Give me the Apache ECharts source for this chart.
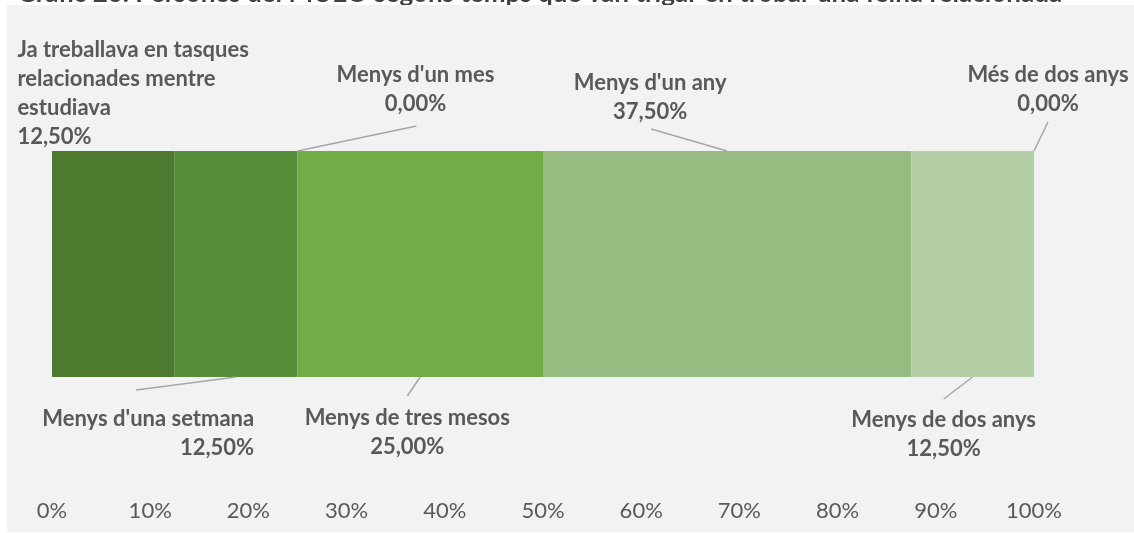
<!DOCTYPE html>
<html>
<head>
<meta charset="utf-8">
<script src="https://cdn.jsdelivr.net/npm/echarts@6/dist/echarts.min.js"></script>
<style>
html,body{margin:0;padding:0;background:#ffffff;}
#chart{width:1134px;height:533px;}
</style>
</head>
<body>
<div id="chart"></div>
<script>
// ---- data ----
const titleText = "Gràfic 26. Persones del MUEO segons temps que van trigar en trobar una feina relacionada";
const categories = [
  "Ja treballava en tasques relacionades mentre estudiava",
  "Menys d'una setmana",
  "Menys d'un mes",
  "Menys de tres mesos",
  "Menys d'un any",
  "Menys de dos anys",
  "Més de dos anys"
];
const labelNames = [
  "Ja treballava en tasques\nrelacionades mentre\nestudiava",
  "Menys d'una setmana",
  "Menys d'un mes",
  "Menys de tres mesos",
  "Menys d'un any",
  "Menys de dos anys",
  "Més de dos anys"
];
const values = [12.5, 12.5, 0, 25, 37.5, 12.5, 0];
const axisMin = 0, axisMax = 100, axisStep = 10;

// ---- styles ----
const segColors = ['#4e7a2f', '#568d38', '#62a03f', '#70ad47', '#96bc81', '#b4cea6', '#c8dbbd'];
// label placement relative to segment anchor (segment middle on bar top/bottom edge)
const labelStyle = [
  {side:'top',    line:null,       tx:-96,  ty:0,    align:'left',   va:'bottom'},
  {side:'bottom', line:[-100, 13], tx:18,   ty:27,   align:'right',  va:'top'},
  {side:'top',    line:[119, -25], tx:118,  ty:-33,  align:'center', va:'bottom'},
  {side:'bottom', line:[-13, 19],  tx:-13,  ty:26.5, align:'center', va:'top'},
  {side:'top',    line:[-76, -22], tx:-77,  ty:-25,  align:'center', va:'bottom'},
  {side:'bottom', line:[-29, 22],  tx:-29,  ty:28.5, align:'center', va:'top'},
  {side:'top',    line:[14, -29],  tx:14,   ty:-33,  align:'center', va:'bottom'}
];
const LABEL_FONT = 'Lato';
const textColor = '#595959';

function fmtPct(v){ return v.toFixed(2).replace('.', ',') + '%'; }

// cumulative mid-points for annotations
const annData = [];
let cum = 0;
for (let i = 0; i < values.length; i++) {
  annData.push([cum + values[i] / 2, 0, i]);
  cum += values[i];
}

const chart = echarts.init(document.getElementById('chart'), null, {renderer:'canvas'});

const barSeries = categories.map((c, i) => ({
  name: c,
  type: 'bar',
  stack: 'total',
  barWidth: '100%',
  data: [values[i]],
  itemStyle: {color: segColors[i]},
  z: 2
}));

const option = {
  animation: false,
  backgroundColor: '#ffffff',
  graphic: [
    {type:'text', left: 17, top: -19, z: -10, silent:true,
     style:{text: titleText, font: 'bold 26px Lato', fill:'#404040'}},
    {type:'rect', shape:{x:7, y:5, width:1127, height:527}, z:-5, silent:true,
     style:{fill:'#f2f2f2'}}
  ],
  grid: {left: 52, right: 100, top: 151, bottom: 156, containLabel: false},
  xAxis: {
    type: 'value', min: axisMin, max: axisMax, interval: axisStep,
    axisLine: {show:false}, axisTick: {show:false}, splitLine: {show:false},
    axisLabel: {formatter: '{value}%', color: textColor, fontFamily: LABEL_FONT,
                fontSize: 22, margin: 123},
    z: 3
  },
  yAxis: {type:'category', data:[''], show:false},
  series: barSeries.concat([{
    type: 'custom',
    coordinateSystem: 'cartesian2d',
    clip: false,
    z: 5,
    silent: true,
    encode: {x: 0, y: 1},
    data: annData,
    renderItem: function(params, api){
      const i = api.value(2);
      const p = api.coord([api.value(0), 0]);
      const h = api.size([0, 1])[1];
      const L = labelStyle[i];
      const ax = p[0];
      const ay = L.side === 'top' ? p[1] - h / 2 : p[1] + h / 2;
      const children = [];
      if (L.line) {
        children.push({type:'line', shape:{x1:ax, y1:ay, x2:ax + L.line[0], y2:ay + L.line[1]},
          style:{stroke:'#a6a6a6', lineWidth:1.5}});
      }
      children.push({type:'text', style:{
        text: labelNames[i] + '\n' + fmtPct(values[i]),
        x: ax + L.tx, y: ay + L.ty,
        align: L.align, verticalAlign: L.va,
        fontFamily: LABEL_FONT, fontWeight: 'bold', fontSize: 22,
        lineHeight: 29, fill: textColor
      }});
      return {type:'group', children: children};
    }
  }])
};
chart.setOption(option);
</script>
</body>
</html>
